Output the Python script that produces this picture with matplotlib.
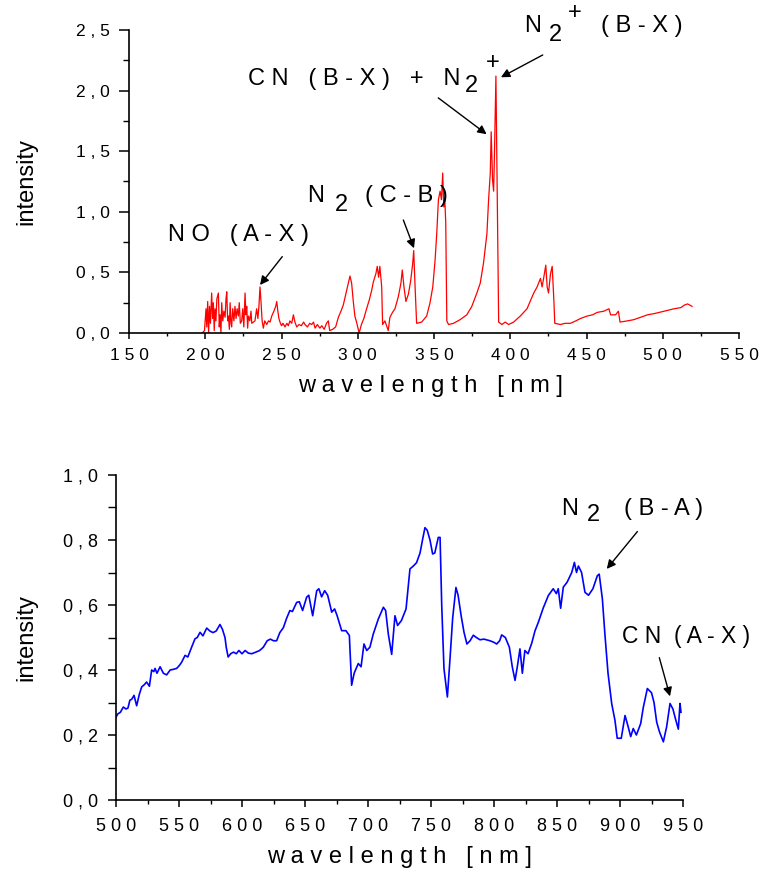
import matplotlib
matplotlib.use('Agg')
import matplotlib.pyplot as plt
from matplotlib.ticker import MultipleLocator, FuncFormatter

plt.rcParams['font.family'] = ['Liberation Sans', 'DejaVu Sans']

# ---------------- data ----------------
top_wl = [
    198.0, 199.5, 200.5, 201.0, 201.6, 202.2, 202.8, 203.4, 204.2, 204.8,
    205.3, 205.9, 206.4, 207.0, 207.6, 208.6, 209.2, 209.7, 210.3, 210.8,
    211.5, 212.2, 213.0, 213.6, 214.1, 214.7, 215.2, 215.8, 216.3, 216.9,
    217.3, 218.0, 218.8, 219.5, 220.2, 220.9, 221.7, 222.3, 223.0, 223.9,
    224.6, 225.3, 226.1, 226.7, 227.2, 227.8, 228.3, 229.2, 230.0, 230.5,
    231.5, 232.6, 233.7, 234.5, 235.2, 235.9, 236.6, 237.3, 238.1, 239.0,
    240.3, 241.5, 242.5, 243.6, 245.0, 246.2, 246.9, 247.6, 248.3, 249.0,
    250.0, 251.0, 252.3, 253.5, 254.5, 255.5, 256.7, 257.8, 258.8, 260.0,
    261.5, 263.0, 264.5, 265.4, 267.0, 268.5, 269.8, 271.0, 272.0, 273.5,
    275.2, 276.4, 278.0, 279.5, 280.7, 281.6, 283.5, 285.5, 287.3, 289.0,
    290.5, 292.7, 294.9, 296.0, 297.0, 298.1, 299.2, 300.9, 302.4, 304.0,
    305.8, 307.5, 309.1, 310.2, 311.9, 312.8, 313.7, 314.5, 315.7, 316.3,
    317.8, 320.0, 321.1, 322.8, 324.4, 326.6, 328.3, 329.2, 330.3, 331.6,
    333.2, 334.7, 336.0, 336.7, 337.5, 338.6, 341.9, 345.2, 347.4, 349.2,
    350.7, 351.8, 352.9, 354.0, 354.9, 355.7, 356.4, 357.1, 357.7, 358.4,
    359.5, 362.8, 367.1, 371.5, 374.8, 378.1, 380.3, 382.5, 384.7, 385.8,
    386.9, 387.5, 388.4, 389.1, 389.7, 390.6, 391.5, 392.4, 394.5, 396.7,
    398.9, 402.2, 406.6, 411.0, 415.4, 417.6, 419.8, 420.9, 422.0, 423.3,
    424.2, 425.1, 426.4, 427.5, 428.6, 429.2, 432.9, 436.0, 439.5, 443.0,
    446.1, 450.5, 454.0, 457.0, 461.4, 464.7, 465.8, 469.1, 470.9, 472.0,
    476.8, 481.0, 485.6, 490.0, 494.4, 500.9, 507.5, 512.0, 514.1, 516.3,
    519.2]
top_int = [
    0.00, 0.02, 0.20, 0.05, 0.26, 0.00, 0.22, 0.08, 0.33, 0.12,
    0.25, 0.02, 0.20, 0.10, 0.28, 0.33, 0.05, 0.15, 0.00, 0.25,
    0.10, 0.18, 0.13, 0.28, 0.34, 0.10, 0.14, 0.03, 0.25, 0.08,
    0.05, 0.20, 0.10, 0.22, 0.12, 0.20, 0.14, 0.25, 0.08, 0.10,
    0.20, 0.05, 0.33, 0.15, 0.22, 0.04, 0.14, 0.10, 0.18, 0.08,
    0.09, 0.10, 0.20, 0.12, 0.22, 0.38, 0.25, 0.10, 0.04, 0.10,
    0.07, 0.10, 0.09, 0.14, 0.18, 0.22, 0.26, 0.18, 0.12, 0.09,
    0.06, 0.08, 0.05, 0.08, 0.06, 0.10, 0.08, 0.15, 0.09, 0.05,
    0.07, 0.06, 0.09, 0.07, 0.05, 0.08, 0.07, 0.09, 0.04, 0.07,
    0.04, 0.06, 0.03, 0.08, 0.10, 0.02, 0.03, 0.05, 0.13, 0.18,
    0.23, 0.35, 0.47, 0.41, 0.27, 0.14, 0.09, 0.00, 0.07, 0.12,
    0.20, 0.27, 0.35, 0.42, 0.49, 0.55, 0.46, 0.55, 0.38, 0.07,
    0.10, 0.02, 0.13, 0.17, 0.20, 0.30, 0.41, 0.52, 0.38, 0.26,
    0.32, 0.43, 0.57, 0.68, 0.41, 0.08, 0.09, 0.14, 0.25, 0.38,
    0.60, 0.82, 1.10, 1.17, 1.10, 1.32, 1.04, 1.10, 0.91, 0.10,
    0.07, 0.08, 0.11, 0.15, 0.22, 0.33, 0.41, 0.58, 0.82, 1.10,
    1.32, 1.66, 1.26, 1.17, 1.51, 2.12, 1.10, 0.09, 0.07, 0.09,
    0.07, 0.09, 0.14, 0.20, 0.33, 0.38, 0.45, 0.38, 0.46, 0.56,
    0.38, 0.33, 0.49, 0.55, 0.27, 0.08, 0.07, 0.08, 0.08, 0.10,
    0.12, 0.14, 0.15, 0.17, 0.18, 0.20, 0.15, 0.15, 0.18, 0.09,
    0.10, 0.11, 0.13, 0.15, 0.16, 0.18, 0.20, 0.21, 0.23, 0.24,
    0.22]

bot_wl = [
    500.0, 501.5, 503.5, 505.8, 508.0, 509.5, 511.0, 512.5, 514.3, 516.4,
    518.5, 520.4, 522.5, 524.3, 526.5, 528.3, 530.0, 531.0, 532.5, 535.0,
    537.6, 540.2, 543.0, 545.5, 548.2, 550.5, 552.1, 554.8, 557.0, 560.0,
    562.7, 564.5, 566.7, 569.0, 572.0, 574.5, 577.0, 579.5, 582.5, 584.5,
    586.5, 587.5, 589.0, 591.0, 593.3, 595.5, 597.5, 600.0, 602.5, 605.0,
    607.7, 611.0, 614.0, 616.9, 620.0, 622.5, 625.0, 627.5, 630.0, 632.8,
    635.5, 638.0, 640.0, 643.4, 645.5, 648.1, 651.3, 653.0, 656.1, 659.3,
    661.0, 663.2, 665.6, 668.0, 671.2, 673.5, 675.5, 679.1, 682.5, 685.2,
    687.0, 689.0, 692.3, 694.5, 696.8, 699.0, 701.5, 704.2, 708.2, 712.2,
    714.0, 716.1, 718.8, 721.4, 723.5, 726.5, 730.2, 733.3, 736.0, 738.5,
    741.3, 743.4, 745.2, 747.0, 749.2, 751.3, 753.0, 755.8, 757.2, 758.5,
    760.3, 763.0, 765.0, 767.2, 769.8, 771.5, 774.0, 776.2, 778.5, 781.0,
    783.6, 786.0, 788.9, 792.0, 796.8, 800.0, 802.1, 804.5, 806.1, 809.0,
    812.2, 814.5, 816.7, 818.5, 820.6, 822.5, 824.5, 827.0, 829.9, 832.5,
    835.2, 839.0, 843.1, 847.0, 849.5, 851.0, 852.9, 855.0, 858.0, 861.7,
    863.8, 865.5, 867.0, 869.5, 872.2, 875.0, 878.5, 882.0, 883.5, 886.0,
    888.0, 890.5, 893.4, 896.0, 897.8, 901.0, 904.0, 906.5, 908.5, 910.5,
    913.0, 916.4, 918.5, 921.7, 925.0, 927.0, 929.1, 931.3, 934.4, 937.0,
    939.7, 942.0, 944.0, 946.3, 947.6, 948.4]
bot_int = [
    0.255, 0.265, 0.270, 0.286, 0.280, 0.283, 0.307, 0.310, 0.322, 0.290,
    0.325, 0.348, 0.355, 0.363, 0.350, 0.400, 0.395, 0.405, 0.390, 0.410,
    0.390, 0.385, 0.400, 0.402, 0.405, 0.415, 0.424, 0.445, 0.440, 0.470,
    0.496, 0.500, 0.516, 0.505, 0.529, 0.520, 0.515, 0.520, 0.540, 0.525,
    0.500, 0.470, 0.440, 0.450, 0.455, 0.450, 0.460, 0.450, 0.460, 0.452,
    0.450, 0.455, 0.460, 0.470, 0.490, 0.495, 0.490, 0.490, 0.515, 0.530,
    0.560, 0.583, 0.580, 0.608, 0.610, 0.583, 0.624, 0.630, 0.567, 0.644,
    0.650, 0.625, 0.644, 0.630, 0.578, 0.588, 0.567, 0.521, 0.521, 0.506,
    0.353, 0.390, 0.420, 0.410, 0.480, 0.460, 0.470, 0.511, 0.557, 0.593,
    0.583, 0.511, 0.448, 0.567, 0.537, 0.552, 0.588, 0.711, 0.720, 0.730,
    0.760, 0.803, 0.838, 0.830, 0.800, 0.757, 0.760, 0.808, 0.808, 0.600,
    0.404, 0.317, 0.430, 0.560, 0.654, 0.630, 0.565, 0.516, 0.480, 0.490,
    0.507, 0.500, 0.493, 0.495, 0.490, 0.485, 0.480, 0.490, 0.508, 0.500,
    0.470, 0.410, 0.368, 0.410, 0.465, 0.390, 0.460, 0.450, 0.482, 0.520,
    0.547, 0.590, 0.629, 0.650, 0.635, 0.650, 0.590, 0.655, 0.670, 0.700,
    0.731, 0.700, 0.720, 0.700, 0.639, 0.630, 0.650, 0.690, 0.695, 0.619,
    0.511, 0.390, 0.297, 0.245, 0.190, 0.190, 0.260, 0.225, 0.195, 0.220,
    0.200, 0.235, 0.285, 0.343, 0.330, 0.300, 0.240, 0.210, 0.179, 0.225,
    0.297, 0.280, 0.250, 0.218, 0.297, 0.270]

# annotation arrows: (tail, head) in data coordinates
top_arrows = [((250.5, 0.63), (235.9, 0.396)),
              ((329.9, 0.932), (336.9, 0.699)),
              ((352.8, 1.94), (384.5, 1.64)),
              ((421.3, 2.294), (393.9, 2.11))]
bot_arrows = [((913.8, 0.826), (889.5, 0.711)),
              ((931.2, 0.438), (939.7, 0.319))]

# ---------------- figure ----------------
W, H = 759, 869
fig = plt.figure(figsize=(W / 100, H / 100), dpi=100)


def axes_px(left, top, right, bottom):
    return fig.add_axes([left / W, 1 - bottom / H, (right - left) / W, (bottom - top) / H])


def spaced(s):
    return ' '.join(s)


def style_axes(ax, ylen_major, ylen_minor, xlen_major, xlen_minor, fs, ypad, xpad):
    for s in ('top', 'right'):
        ax.spines[s].set_visible(False)
    for s in ('left', 'bottom'):
        ax.spines[s].set_linewidth(1.2)
        ax.spines[s].set_color('black')
    ax.tick_params(axis='y', which='major', length=ylen_major, width=1.1, pad=ypad, labelsize=fs, direction='out')
    ax.tick_params(axis='y', which='minor', length=ylen_minor, width=1.0, direction='out')
    ax.tick_params(axis='x', which='major', length=xlen_major, width=1.1, pad=xpad, labelsize=fs, direction='out')
    ax.tick_params(axis='x', which='minor', length=xlen_minor, width=1.0, direction='out')
    ax.xaxis.set_major_formatter(FuncFormatter(lambda v, p: spaced(f"{int(round(v))}")))
    ax.yaxis.set_major_formatter(FuncFormatter(lambda v, p: spaced(f"{v:.1f}".replace('.', ','))))


ax1 = axes_px(129, 30, 739, 333)
ax1.plot(top_wl, top_int, color='#ff0000', lw=0.9)
ax1.set_xlim(150, 550)
ax1.set_ylim(0, 2.5)
ax1.xaxis.set_major_locator(MultipleLocator(50))
ax1.xaxis.set_minor_locator(MultipleLocator(25))
ax1.yaxis.set_major_locator(MultipleLocator(0.5))
ax1.yaxis.set_minor_locator(MultipleLocator(0.25))
style_axes(ax1, 7, 4.5, 4.5, 2.5, 12.5, 7, 6)
ax1.set_ylabel('intensity', fontsize=17)
ax1.yaxis.set_label_coords(-0.151, 0.5)
ax1.set_xlabel(spaced('wavelength') + '   [ n m ]', fontsize=17)
ax1.xaxis.set_label_coords(0.495, -0.14)

ax2 = axes_px(116, 475, 683, 800)
ax2.plot(bot_wl, bot_int, color='#0000ff', lw=1.2)
ax2.set_xlim(500, 950)
ax2.set_ylim(0, 1.0)
ax2.xaxis.set_major_locator(MultipleLocator(50))
ax2.xaxis.set_minor_locator(MultipleLocator(25))
ax2.yaxis.set_major_locator(MultipleLocator(0.2))
ax2.yaxis.set_minor_locator(MultipleLocator(0.1))
style_axes(ax2, 6, 6, 5, 3, 13, 7, 8)
ax2.set_ylabel('intensity', fontsize=17)
ax2.yaxis.set_label_coords(-0.139, 0.5)
ax2.set_xlabel(spaced('wavelength') + '   [ n m ]', fontsize=17)
ax2.xaxis.set_label_coords(0.5, -0.14)

arrow_kw = dict(arrowstyle='-|>', color='black', lw=1.0, mutation_scale=13,
                shrinkA=0, shrinkB=0)
for tail, head in top_arrows:
    ax1.annotate('', xy=head, xytext=tail, xycoords='data', textcoords='data',
                 arrowprops=arrow_kw)
for tail, head in bot_arrows:
    ax2.annotate('', xy=head, xytext=tail, xycoords='data', textcoords='data',
                 arrowprops=arrow_kw)


def ftext(x, y, s, fs=17):
    fig.text(x / W, 1 - y / H, s, ha='left', va='baseline', fontsize=fs, color='black')


# top annotations
ftext(168, 241, 'N O   ( A - X )')
ftext(307, 202, 'N')
ftext(335, 211, '2')
ftext(365, 202, '( C - B )')
ftext(248, 85, 'C N   ( B - X )   +   N')
ftext(465, 92, '2')
ftext(486, 69, '+')
ftext(524, 32, 'N')
ftext(549, 41, '2')
ftext(568, 19, '+')
ftext(601, 32, '( B - X )')

# bottom annotations
ftext(561, 515, 'N')
ftext(587, 521, '2')
ftext(624, 515, '( B - A )')
ftext(622, 643, 'C N  ( A - X )', fs=16.5)

fig.savefig('out.png', dpi=100)
